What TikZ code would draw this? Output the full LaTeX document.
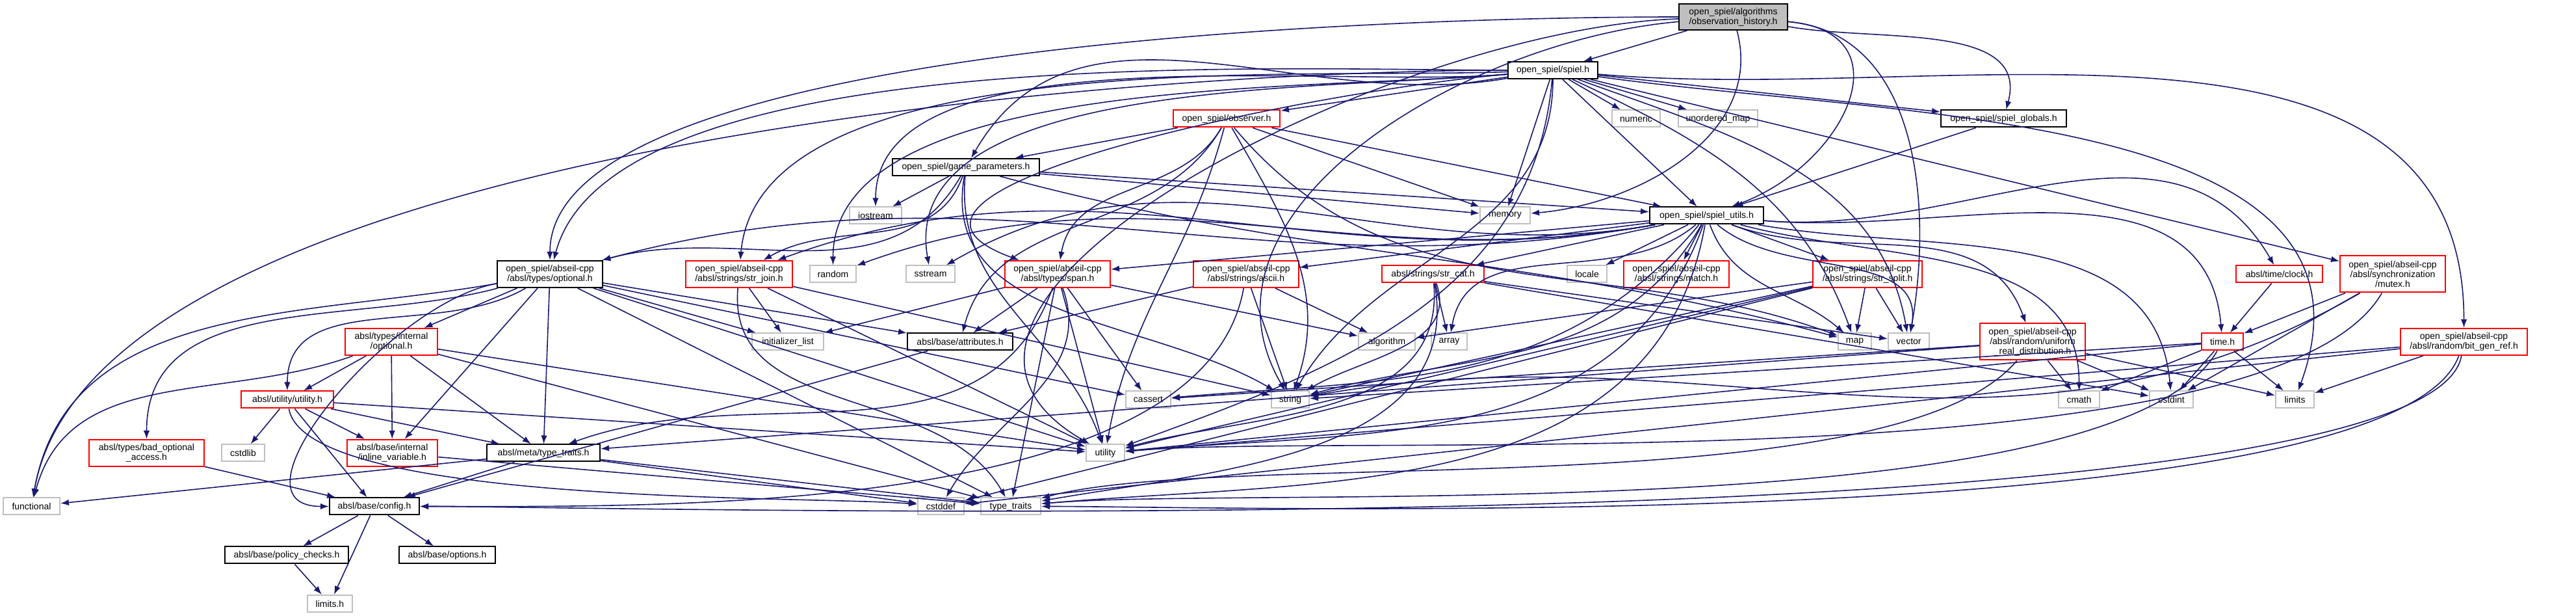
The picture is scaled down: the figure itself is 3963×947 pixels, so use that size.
\documentclass[tikz,border=0pt]{standalone}
\usepackage{fontspec}
\setmainfont{Liberation Sans}
\usepackage{xcolor}
\usepackage{tikz}
\usetikzlibrary{arrows.meta,positioning}

\definecolor{edgeblue}{HTML}{191970}
\definecolor{sysgray}{HTML}{BFBFBF}
\newlength{\pxu}
\setlength{\pxu}{0.1pt}

\begin{document}
\begin{tikzpicture}[x=0.1pt, y=-0.1pt,
    hdr/.style={rectangle, draw=black, fill=white, line width=0.2pt, inner sep=0.2pt, minimum height=26\pxu, align=center, font=\fontsize{1.4pt}{1.5pt}\selectfont},
    hdrred/.style={hdr, draw=red},
    hdrsys/.style={hdr, draw=sysgray},
    hdrroot/.style={hdr, fill=sysgray},
    dep/.style={->, >={Latex[length=1.3pt,width=0.95pt]}, draw=edgeblue, line width=0.16pt}
]
    \fill[white] (0,0) rectangle (3963,947);
    \useasboundingbox (0,0) rectangle (3963,947);

    % rank 0 - 4
    \node[hdrroot, minimum width=167\pxu, minimum height=40\pxu] (obshist) at (2666.5,26) {open\_spiel/algorithms\\/observation\_history.h};
    \node[hdr, minimum width=138\pxu] (spiel) at (2389,108) {open\_spiel/spiel.h};
    \node[hdrred, minimum width=164\pxu] (observer) at (1887,182.5) {open\_spiel/observer.h};
    \node[hdrsys, minimum width=74\pxu, right=509\pxu of observer] (numeric) {numeric};
    \node[hdrsys, minimum width=122\pxu, right=26\pxu of numeric] (umap) {unordered\_map};
    \node[hdr, minimum width=193\pxu, right=280\pxu of umap] (globals) {open\_spiel/spiel\_globals.h};
    \node[hdr, minimum width=226\pxu] (gameparams) at (1486,257) {open\_spiel/game\_parameters.h};
    \node[hdrsys, minimum width=80\pxu] (iostream) at (1347,331.5) {iostream};
    \node[hdrsys, minimum width=77\pxu, right=888\pxu of iostream] (memory) {memory};
    \node[hdr, minimum width=175\pxu, right=182\pxu of memory] (utils) {open\_spiel/spiel\_utils.h};

    % rank 5
    \node[hdr, minimum width=162\pxu, minimum height=41\pxu] (optional) at (846,421.5) {open\_spiel/abseil-cpp\\/absl/types/optional.h};
    \node[hdrred, minimum width=164\pxu, minimum height=41\pxu, right=126\pxu of optional] (strjoin) {open\_spiel/abseil-cpp\\/absl/strings/str\_join.h};
    \node[hdrsys, minimum width=71\pxu, right=25\pxu of strjoin] (random) {random};
    \node[hdrsys, minimum width=75\pxu, right=75\pxu of random] (sstream) {sstream};
    \node[hdrred, minimum width=162\pxu, minimum height=41\pxu, right=75\pxu of sstream] (span) {open\_spiel/abseil-cpp\\/absl/types/span.h};
    \node[hdrred, minimum width=162\pxu, minimum height=41\pxu, right=126\pxu of span] (ascii) {open\_spiel/abseil-cpp\\/absl/strings/ascii.h};
    \node[hdrred, minimum width=157\pxu, right=126\pxu of ascii] (strcat) {absl/strings/str\_cat.h};
    \node[hdrsys, minimum width=61\pxu, right=126\pxu of strcat] (locale) {locale};
    \node[hdrred, minimum width=162\pxu, minimum height=41\pxu, right=24\pxu of locale] (match) {open\_spiel/abseil-cpp\\/absl/strings/match.h};
    \node[hdrred, minimum width=168\pxu, minimum height=41\pxu, right=127\pxu of match] (strsplit) {open\_spiel/abseil-cpp\\/absl/strings/str\_split.h};
    \node[hdrred, minimum width=133\pxu, right=481\pxu of strsplit] (clock) {absl/time/clock.h};
    \node[hdrred, minimum width=162\pxu, minimum height=56\pxu, right=25\pxu of clock] (mutex) {open\_spiel/abseil-cpp\\/absl/synchronization\\/mutex.h};

    % rank 6
    \node[hdrred, minimum width=142\pxu, minimum height=41\pxu] (optint) at (602,525.5) {absl/types/internal\\/optional.h};
    \node[hdrsys, minimum width=110\pxu, right=482\pxu of optint] (initlist) {initializer\_list};
    \node[hdr, minimum width=162\pxu, right=127\pxu of initlist] (attrs) {absl/base/attributes.h};
    \node[hdrsys, minimum width=87\pxu, right=530\pxu of attrs] (algorithm) {algorithm};
    \node[hdrsys, minimum width=55\pxu, right=23\pxu of algorithm] (array) {array};
    \node[hdrsys, minimum width=51\pxu, right=569\pxu of array] (map) {map};
    \node[hdrsys, minimum width=63\pxu, right=24\pxu of map] (vector) {vector};
    \node[hdrred, minimum width=162\pxu, minimum height=56\pxu, right=76\pxu of vector] (uniform) {open\_spiel/abseil-cpp\\/absl/random/uniform\\\_real\_distribution.h};
    \node[hdrred, minimum width=64\pxu, right=177\pxu of uniform] (timeh) {time.h};
    \node[hdrred, minimum width=195\pxu, minimum height=41\pxu, right=240\pxu of timeh] (bitgen) {open\_spiel/abseil-cpp\\/absl/random/bit\_gen\_ref.h};

    % rank 7
    \node[hdrred, minimum width=142\pxu] (utilityh) at (442,614.5) {absl/utility/utility.h};
    \node[hdrsys, minimum width=69\pxu, right=1217\pxu of utilityh] (cassert) {cassert};
    \node[hdrsys, minimum width=58\pxu, right=153\pxu of cassert] (string) {string};
    \node[hdrsys, minimum width=63\pxu, right=1151\pxu of string] (cmath) {cmath};
    \node[hdrsys, minimum width=67\pxu, right=75\pxu of cmath] (cstdint) {cstdint};
    \node[hdrsys, minimum width=59\pxu, right=125\pxu of cstdint] (limits) {limits};

    % rank 8
    \node[hdrred, minimum width=177\pxu, minimum height=41\pxu] (badopt) at (225.5,696.5) {absl/types/bad\_optional\\\_access.h};
    \node[hdrsys, minimum width=66\pxu, right=25\pxu of badopt] (cstdlib) {cstdlib};
    \node[hdrred, minimum width=139\pxu, minimum height=41\pxu, right=125\pxu of cstdlib] (inlinevar) {absl/base/internal\\/inline\_variable.h};
    \node[hdr, minimum width=174\pxu, right=74\pxu of inlinevar] (metatraits) {absl/meta/type\_traits.h};
    \node[hdrsys, minimum width=59\pxu, right=746\pxu of metatraits] (utility) {utility};

    % rank 9 - 11
    \node[hdrsys, minimum width=87\pxu] (functional) at (48.5,778.5) {functional};
    \node[hdr, minimum width=138\pxu, right=413\pxu of functional] (config) {absl/base/config.h};
    \node[hdrsys, minimum width=71\pxu, right=765\pxu of config] (cstddef) {cstddef};
    \node[hdrsys, minimum width=92\pxu, right=24\pxu of cstddef] (typetraits) {type\_traits};
    \node[hdr, minimum width=190\pxu] (policy) at (441,853.5) {absl/base/policy\_checks.h};
    \node[hdr, minimum width=148\pxu, right=76\pxu of policy] (options) {absl/base/options.h};
    \node[hdrsys, minimum width=69\pxu] (limitsh) at (507.5,928) {limits.h};

    % observation_history.h
    \draw[dep] (obshist) -- (spiel);
    \draw[dep] (obshist) to[out=-10,in=75] (globals);
    \draw[dep] (obshist) to[out=-5,in=20,looseness=1.6] (utils);
    \draw[dep] (obshist) to[out=-75,in=5] (memory);
    \draw[dep] (obshist) to[out=-5,in=80] (vector);
    \draw[dep] (obshist) to[out=180,in=90,looseness=0.5] (optional);
    \draw[dep] (obshist) to[out=182,in=150] (utility);
    \draw[dep] (obshist) to[out=185,in=120] (string);

    % spiel.h
    \draw[dep] (spiel) -- (observer);
    \draw[dep] (spiel) to[out=190,in=60] (gameparams);
    \draw[dep] (spiel) -- (numeric);
    \draw[dep] (spiel) -- (umap);
    \draw[dep] (spiel) -- (globals);
    \draw[dep] (spiel) -- (utils);
    \draw[dep] (spiel) -- (memory);
    \draw[dep] (spiel) to[out=-20,in=100] (vector);
    \draw[dep] (spiel) to[out=-25,in=110] (map);
    \draw[dep] (spiel) -- (mutex);
    \draw[dep] (spiel) to[out=-5,in=90] (bitgen);
    \draw[dep] (spiel) to[out=-8,in=70] (limits);
    \draw[dep] (spiel) to[out=180,in=80,looseness=0.6] (functional);
    \draw[dep] (spiel) to[out=185,in=90,looseness=0.7] (iostream);
    \draw[dep] (spiel) to[out=185,in=90,looseness=0.7] (random);
    \draw[dep] (spiel) to[out=185,in=100,looseness=0.8] (sstream);
    \draw[dep] (spiel) to[out=180,in=75,looseness=0.6] (optional);
    \draw[dep] (spiel) to[out=182,in=85,looseness=0.7] (strjoin);
    \draw[dep] (spiel) to[out=185,in=160] (span);
    \draw[dep] (spiel) to[out=-90,in=60] (string);
    \draw[dep] (spiel) to[out=-95,in=20] (utility);

    % observer.h
    \draw[dep] (observer) -- (gameparams);
    \draw[dep] (observer) to[out=-120,in=80] (span);
    \draw[dep] (observer) -- (memory);
    \draw[dep] (observer) -- (utils);
    \draw[dep] (observer) to[out=-60,in=70] (string);
    \draw[dep] (observer) to[out=-105,in=80] (utility);
    \draw[dep] (observer) to[out=-120,in=75] (attrs);
    \draw[dep] (observer) to[out=-50,in=160] (map);

    % game_parameters.h
    \draw[dep] (gameparams) -- (iostream);
    \draw[dep] (gameparams) -- (memory);
    \draw[dep] (gameparams) -- (utils);
    \draw[dep] (gameparams) to[out=-15,in=165] (map);
    \draw[dep] (gameparams) to[out=-120,in=15] (optional);
    \draw[dep] (gameparams) to[out=-110,in=30] (strjoin);
    \draw[dep] (gameparams) to[out=-100,in=150] (string);
    \draw[dep] (gameparams) to[out=-95,in=110] (utility);

    % spiel_globals.h
    \draw[dep] (globals) -- (utils);

    % spiel_utils.h
    \draw[dep] (utils) -- (locale);
    \draw[dep] (utils) -- (match);
    \draw[dep] (utils) -- (strsplit);
    \draw[dep] (utils) -- (strcat);
    \draw[dep] (utils) -- (ascii);
    \draw[dep] (utils) -- (span);
    \draw[dep] (utils) to[out=190,in=20] (strjoin);
    \draw[dep] (utils) to[out=190,in=15] (optional);
    \draw[dep] (utils) to[out=190,in=20] (random);
    \draw[dep] (utils) to[out=190,in=30] (sstream);
    \draw[dep] (utils) to[out=-40,in=80] (vector);
    \draw[dep] (utils) to[out=-70,in=140] (map);
    \draw[dep] (utils) to[out=-20,in=110] (uniform);
    \draw[dep] (utils) to[out=-15,in=90] (cmath);
    \draw[dep] (utils) to[out=-10,in=95] (cstdint);
    \draw[dep] (utils) to[out=-5,in=95] (timeh);
    \draw[dep] (utils) to[out=-5,in=120] (clock);
    \draw[dep] (utils) to[out=-140,in=80] (array);
    \draw[dep] (utils) to[out=-120,in=15] (string);
    \draw[dep] (utils) to[out=-110,in=5] (utility);
    \draw[dep] (utils) to[out=-130,in=5] (cassert);
    \draw[dep] (utils) to[out=-100,in=5] (typetraits);

    % absl/types/optional.h
    \draw[dep] (optional) -- (optint);
    \draw[dep] (optional) -- (initlist);
    \draw[dep] (optional) -- (attrs);
    \draw[dep] (optional) -- (metatraits);
    \draw[dep] (optional) to[out=-150,in=90] (utilityh);
    \draw[dep] (optional) to[out=-165,in=90] (badopt);
    \draw[dep] (optional) -- (inlinevar);
    \draw[dep] (optional) to[out=-170,in=180] (config);
    \draw[dep] (optional) to[out=-170,in=80] (functional);
    \draw[dep] (optional) -- (utility);
    \draw[dep] (optional) -- (typetraits);
    \draw[dep] (optional) -- (cassert);

    % absl/types/internal/optional.h
    \draw[dep] (optint) -- (utilityh);
    \draw[dep] (optint) -- (inlinevar);
    \draw[dep] (optint) -- (metatraits);
    \draw[dep] (optint) to[out=-160,in=75] (functional);
    \draw[dep] (optint) -- (utility);
    \draw[dep] (optint) -- (typetraits);

    % absl/strings/str_join.h
    \draw[dep] (strjoin) -- (initlist);
    \draw[dep] (strjoin) -- (string);
    \draw[dep] (strjoin) -- (utility);
    \draw[dep] (strjoin) to[out=-95,in=120] (typetraits);

    % absl/types/span.h
    \draw[dep] (span) -- (initlist);
    \draw[dep] (span) -- (attrs);
    \draw[dep] (span) -- (algorithm);
    \draw[dep] (span) -- (cassert);
    \draw[dep] (span) -- (utility);
    \draw[dep] (span) -- (typetraits);
    \draw[dep] (span) to[out=-70,in=60] (cstddef);
    \draw[dep] (span) to[out=-110,in=20] (metatraits);

    % absl/strings/ascii.h
    \draw[dep] (ascii) -- (algorithm);
    \draw[dep] (ascii) -- (string);
    \draw[dep] (ascii) -- (attrs);
    \draw[dep] (ascii) to[out=-100,in=0,looseness=0.7] (config);

    % absl/strings/str_cat.h
    \draw[dep] (strcat) -- (array);
    \draw[dep] (strcat) to[out=-70,in=30] (string);
    \draw[dep] (strcat) -- (vector);
    \draw[dep] (strcat) -- (cstdint);
    \draw[dep] (strcat) to[out=-80,in=10] (typetraits);
    \draw[dep] (strcat) to[out=-85,in=15] (utility);

    % absl/strings/str_split.h
    \draw[dep] (strsplit) -- (map);
    \draw[dep] (strsplit) -- (vector);
    \draw[dep] (strsplit) -- (algorithm);
    \draw[dep] (strsplit) -- (string);
    \draw[dep] (strsplit) -- (utility);
    \draw[dep] (strsplit) -- (cstddef);

    % absl/time, synchronization
    \draw[dep] (clock) -- (timeh);
    \draw[dep] (mutex) -- (timeh);
    \draw[dep] (mutex) -- (cstdint);
    \draw[dep] (mutex) to[out=-150,in=10] (string);
    \draw[dep] (mutex) to[out=-120,in=5,looseness=0.45] (utility);
    \draw[dep] (timeh) -- (cmath);
    \draw[dep] (timeh) -- (cstdint);
    \draw[dep] (timeh) -- (limits);
    \draw[dep] (timeh) -- (string);
    \draw[dep] (timeh) to[out=-120,in=5,looseness=0.45] (typetraits);
    \draw[dep] (timeh) -- (utility);

    % absl/random
    \draw[dep] (uniform) -- (cmath);
    \draw[dep] (uniform) -- (cstdint);
    \draw[dep] (uniform) -- (limits);
    \draw[dep] (uniform) to[out=-130,in=15,looseness=0.5] (typetraits);
    \draw[dep] (uniform) -- (metatraits);
    \draw[dep] (uniform) -- (cassert);
    \draw[dep] (bitgen) -- (limits);
    \draw[dep] (bitgen) to[out=-110,in=0,looseness=0.35] (typetraits);
    \draw[dep] (bitgen) -- (utility);
    \draw[dep] (bitgen) to[out=-100,in=0,looseness=0.25] (config);
    \draw[dep] (bitgen) -- (cstddef);

    % absl/base, absl/meta, absl/utility
    \draw[dep] (attrs) -- (config);
    \draw[dep] (utilityh) -- (cstdlib);
    \draw[dep] (utilityh) -- (inlinevar);
    \draw[dep] (utilityh) -- (metatraits);
    \draw[dep] (utilityh) -- (config);
    \draw[dep] (utilityh) -- (utility);
    \draw[dep] (utilityh) to[out=-80,in=175,looseness=0.4] (cstddef);
    \draw[dep] (badopt) -- (config);
    \draw[dep] (inlinevar) -- (typetraits);
    \draw[dep] (metatraits) -- (functional);
    \draw[dep] (metatraits) -- (config);
    \draw[dep] (metatraits) -- (cstddef);
    \draw[dep] (metatraits) -- (typetraits);
    \draw[dep] (config) -- (policy);
    \draw[dep] (config) -- (options);
    \draw[dep] (config) -- (limitsh);
    \draw[dep] (policy) -- (limitsh);
\end{tikzpicture}
\end{document}
